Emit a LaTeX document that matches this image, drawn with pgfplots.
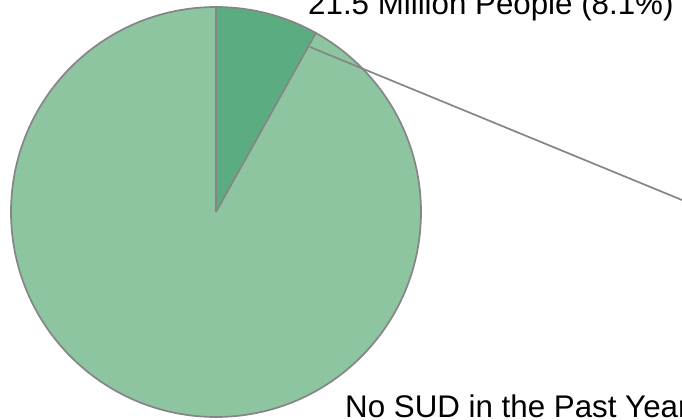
\documentclass[border=0pt]{standalone}
\usepackage{pgfplots}
\usepackage{pgfplotstable}
\pgfplotsset{compat=1.18}
\usepackage{fontspec}
\setmainfont{Liberation Sans}
\definecolor{light}{HTML}{8DC5A1}
\definecolor{dark}{HTML}{5BAD81}
\definecolor{edge}{HTML}{858585}
\pgfplotstableread{
share
8.1
91.9
}\piedata
\pgfplotstablegetelem{0}{share}\of\piedata
\let\sa\pgfplotsretval
\pgfmathsetmacro\angA{90-3.6*\sa}
\begin{document}
\begin{tikzpicture}
\useasboundingbox (0,0) rectangle (682bp,420bp);
\clip (0,0) rectangle (682bp,420bp);
\begin{axis}[at={(0,0)},anchor=south west,width=682bp,height=420bp,scale only axis,
  xmin=0,xmax=682,ymin=0,ymax=420,hide axis,clip=false]
\fill[light] (axis cs:216,208) circle[radius=205bp];
\fill[dark] (axis cs:216,208) -- ++(90:205bp) arc[start angle=90,end angle=\angA,radius=205bp] -- cycle;
\draw[edge,line width=1.7bp] (axis cs:216,208) circle[radius=205bp];
\draw[edge,line width=1.7bp] (axis cs:216,208) -- ++(90:205bp);
\draw[edge,line width=1.7bp] (axis cs:216,208) -- ++(\angA:205bp);
\draw[edge,line width=1.7bp] (axis cs:310,373) -- (axis cs:682,220);
\node[anchor=base west,font=\fontsize{31.3bp}{33bp}\selectfont,inner sep=0pt] at (axis cs:308,405) {21.5 Million People (8.1\%)};
\node[anchor=base west,font=\fontsize{31.3bp}{33bp}\selectfont,inner sep=0pt] at (axis cs:345,3) {No SUD in the Past Year};
\end{axis}
\end{tikzpicture}
\end{document}
